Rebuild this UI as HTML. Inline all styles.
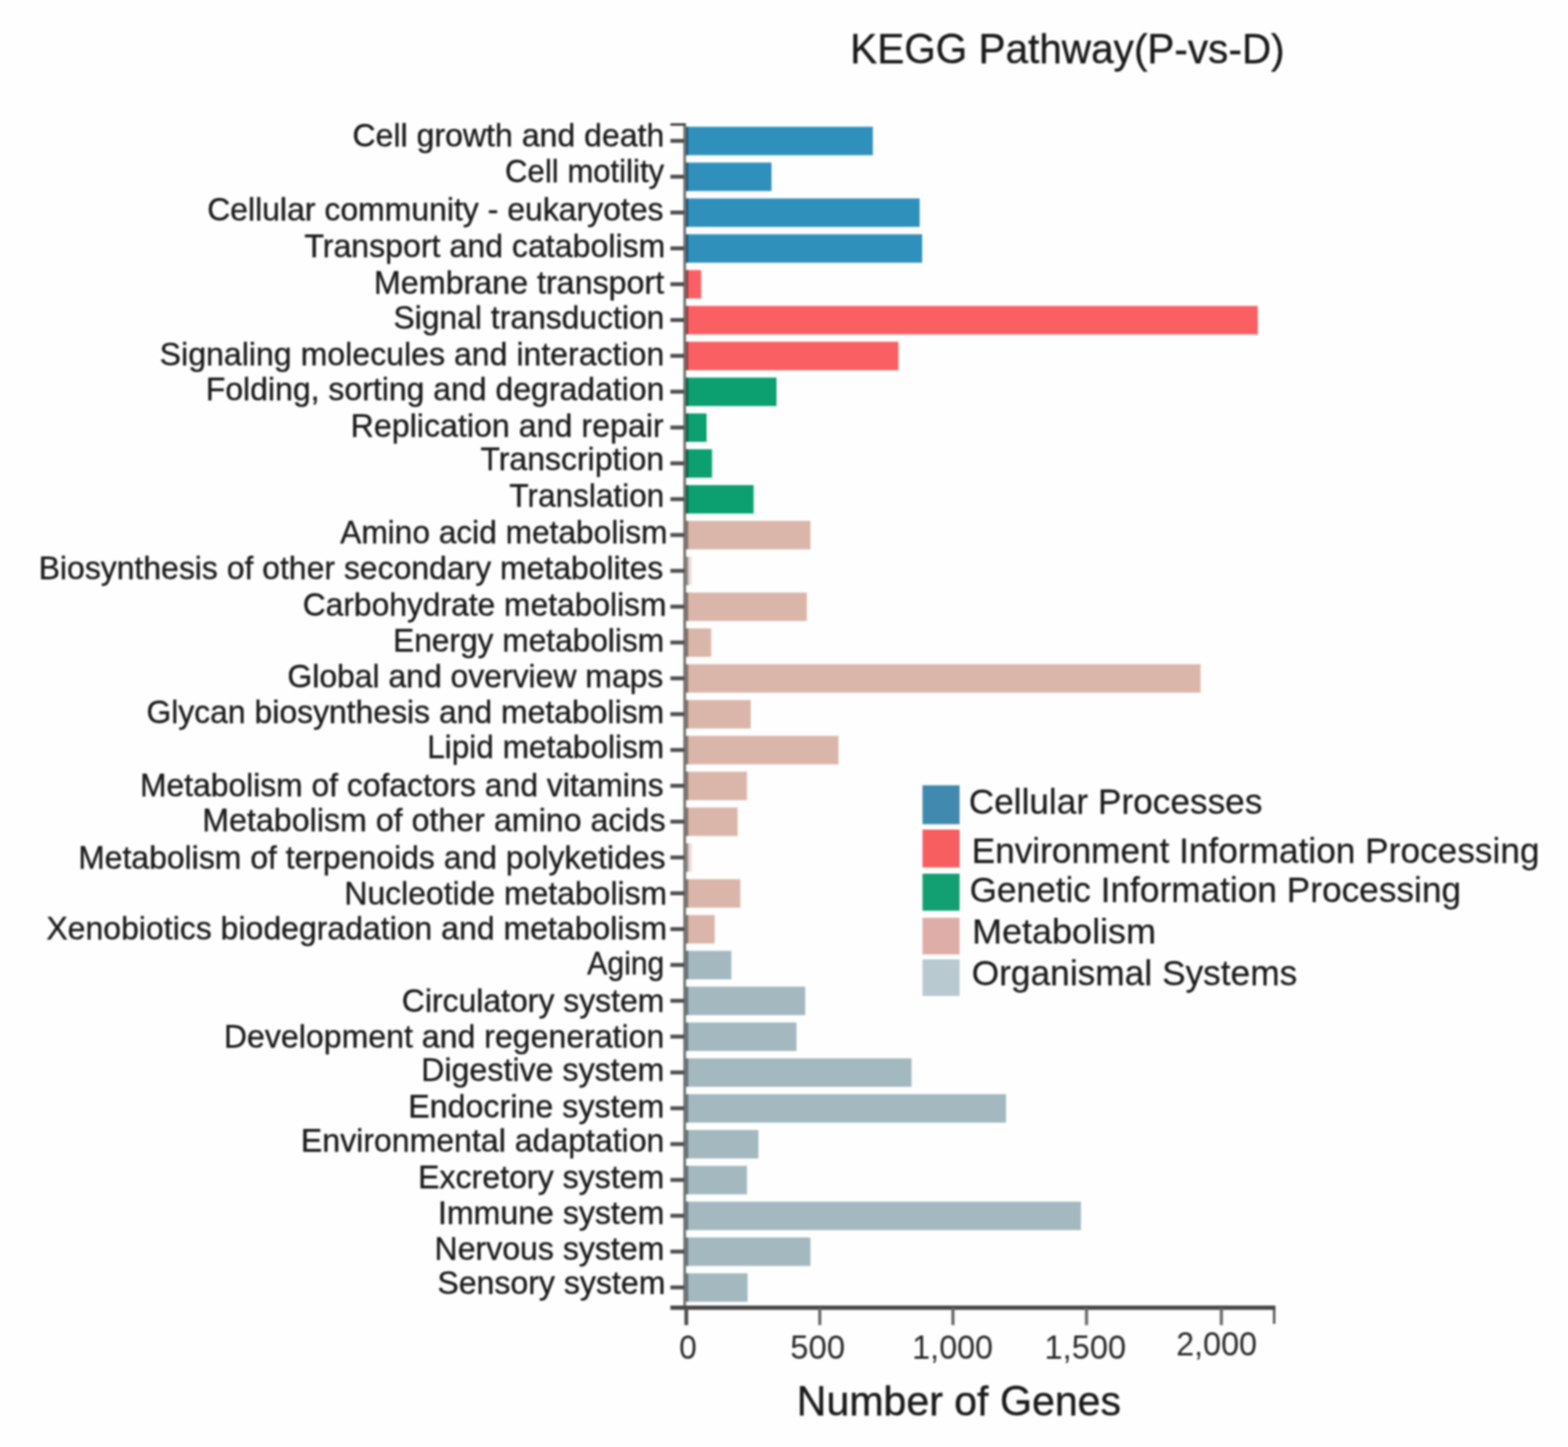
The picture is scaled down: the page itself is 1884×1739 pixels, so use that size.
<!DOCTYPE html>
<html lang="en">
<head>
<meta charset="utf-8">
<title>KEGG Pathway(P-vs-D)</title>
<style>
html,body{margin:0;padding:0;background:#fefefe;}
body{width:1884px;height:1739px;overflow:hidden;}
svg{display:block;}
#blurwrap{filter:blur(0.9px);}
text{font-family:"Liberation Sans",Arial,Helvetica,sans-serif;fill:#1a1a1a;}
.tk{fill:#2a2a2a;}
.lab{font-size:38.5px;stroke:#1a1a1a;stroke-width:0.4px;}
.leg{font-size:43px;stroke:#1a1a1a;stroke-width:0.25px;}
.tk{font-size:40px;}
.ttl{font-size:50px;stroke:#1a1a1a;stroke-width:0.45px;}
.xl{font-size:50px;stroke:#1a1a1a;stroke-width:0.45px;}
</style>
</head>
<body>
<svg width="1884" height="1739" viewBox="0 0 1884 1739">
<rect x="0" y="0" width="1884" height="1739" fill="#fefefe"/>
<g id="blurwrap">
<g id="bars">
<rect x="824" y="152.35" width="224.75" height="34.20" fill="#3090BC"/>
<rect x="824" y="152.35" width="3" height="34.20" fill="#000" opacity="0.36"/>
<rect x="824" y="195.41" width="103.00" height="34.20" fill="#3090BC"/>
<rect x="824" y="195.41" width="3" height="34.20" fill="#000" opacity="0.36"/>
<rect x="824" y="238.47" width="281.00" height="34.20" fill="#3090BC"/>
<rect x="824" y="238.47" width="3" height="34.20" fill="#000" opacity="0.36"/>
<rect x="824" y="281.53" width="284.00" height="34.20" fill="#3090BC"/>
<rect x="824" y="281.53" width="3" height="34.20" fill="#000" opacity="0.36"/>
<rect x="824" y="324.59" width="18.50" height="34.20" fill="#FA5F63"/>
<rect x="824" y="324.59" width="3" height="34.20" fill="#000" opacity="0.36"/>
<rect x="824" y="367.65" width="687.25" height="34.20" fill="#FA5F63"/>
<rect x="824" y="367.65" width="3" height="34.20" fill="#000" opacity="0.36"/>
<rect x="824" y="410.71" width="255.50" height="34.20" fill="#FA5F63"/>
<rect x="824" y="410.71" width="3" height="34.20" fill="#000" opacity="0.36"/>
<rect x="824" y="453.77" width="109.00" height="34.20" fill="#0CA070"/>
<rect x="824" y="453.77" width="3" height="34.20" fill="#000" opacity="0.36"/>
<rect x="824" y="496.83" width="25.00" height="34.20" fill="#0CA070"/>
<rect x="824" y="496.83" width="3" height="34.20" fill="#000" opacity="0.36"/>
<rect x="824" y="539.89" width="31.50" height="34.20" fill="#0CA070"/>
<rect x="824" y="539.89" width="3" height="34.20" fill="#000" opacity="0.36"/>
<rect x="824" y="582.95" width="81.50" height="34.20" fill="#0CA070"/>
<rect x="824" y="582.95" width="3" height="34.20" fill="#000" opacity="0.36"/>
<rect x="824" y="626.01" width="149.75" height="34.20" fill="#DAB6AA"/>
<rect x="824" y="626.01" width="3" height="34.20" fill="#000" opacity="0.36"/>
<rect x="824" y="669.07" width="7.00" height="34.20" fill="#DAB6AA" opacity="0.45"/>
<rect x="824" y="669.07" width="3" height="34.20" fill="#000" opacity="0.36"/>
<rect x="824" y="712.13" width="145.50" height="34.20" fill="#DAB6AA"/>
<rect x="824" y="712.13" width="3" height="34.20" fill="#000" opacity="0.36"/>
<rect x="824" y="755.19" width="30.50" height="34.20" fill="#DAB6AA"/>
<rect x="824" y="755.19" width="3" height="34.20" fill="#000" opacity="0.36"/>
<rect x="824" y="798.25" width="618.50" height="34.20" fill="#DAB6AA"/>
<rect x="824" y="798.25" width="3" height="34.20" fill="#000" opacity="0.36"/>
<rect x="824" y="841.31" width="78.00" height="34.20" fill="#DAB6AA"/>
<rect x="824" y="841.31" width="3" height="34.20" fill="#000" opacity="0.36"/>
<rect x="824" y="884.37" width="183.50" height="34.20" fill="#DAB6AA"/>
<rect x="824" y="884.37" width="3" height="34.20" fill="#000" opacity="0.36"/>
<rect x="824" y="927.43" width="73.50" height="34.20" fill="#DAB6AA"/>
<rect x="824" y="927.43" width="3" height="34.20" fill="#000" opacity="0.36"/>
<rect x="824" y="970.49" width="62.25" height="34.20" fill="#DAB6AA"/>
<rect x="824" y="970.49" width="3" height="34.20" fill="#000" opacity="0.36"/>
<rect x="824" y="1013.55" width="7.25" height="34.20" fill="#DAB6AA" opacity="0.45"/>
<rect x="824" y="1013.55" width="3" height="34.20" fill="#000" opacity="0.36"/>
<rect x="824" y="1056.61" width="65.50" height="34.20" fill="#DAB6AA"/>
<rect x="824" y="1056.61" width="3" height="34.20" fill="#000" opacity="0.36"/>
<rect x="824" y="1099.67" width="34.75" height="34.20" fill="#DAB6AA"/>
<rect x="824" y="1099.67" width="3" height="34.20" fill="#000" opacity="0.36"/>
<rect x="824" y="1142.73" width="54.75" height="34.20" fill="#A3B8BF"/>
<rect x="824" y="1142.73" width="3" height="34.20" fill="#000" opacity="0.36"/>
<rect x="824" y="1185.79" width="143.50" height="34.20" fill="#A3B8BF"/>
<rect x="824" y="1185.79" width="3" height="34.20" fill="#000" opacity="0.36"/>
<rect x="824" y="1228.85" width="133.00" height="34.20" fill="#A3B8BF"/>
<rect x="824" y="1228.85" width="3" height="34.20" fill="#000" opacity="0.36"/>
<rect x="824" y="1271.91" width="271.25" height="34.20" fill="#A3B8BF"/>
<rect x="824" y="1271.91" width="3" height="34.20" fill="#000" opacity="0.36"/>
<rect x="824" y="1314.97" width="384.75" height="34.20" fill="#A3B8BF"/>
<rect x="824" y="1314.97" width="3" height="34.20" fill="#000" opacity="0.36"/>
<rect x="824" y="1358.03" width="87.25" height="34.20" fill="#A3B8BF"/>
<rect x="824" y="1358.03" width="3" height="34.20" fill="#000" opacity="0.36"/>
<rect x="824" y="1401.09" width="73.50" height="34.20" fill="#A3B8BF"/>
<rect x="824" y="1401.09" width="3" height="34.20" fill="#000" opacity="0.36"/>
<rect x="824" y="1444.15" width="474.75" height="34.20" fill="#A3B8BF"/>
<rect x="824" y="1444.15" width="3" height="34.20" fill="#000" opacity="0.36"/>
<rect x="824" y="1487.21" width="149.75" height="34.20" fill="#A3B8BF"/>
<rect x="824" y="1487.21" width="3" height="34.20" fill="#000" opacity="0.36"/>
<rect x="824" y="1530.27" width="74.25" height="34.20" fill="#A3B8BF"/>
<rect x="824" y="1530.27" width="3" height="34.20" fill="#000" opacity="0.36"/>
</g>
<g id="axes" fill="#505050">
<rect x="821" y="148.2" width="3.3" height="1425" fill="#747474"/>
<rect x="805.5" y="148.2" width="18" height="2.9" fill="#3c3c3c"/>
<rect x="805.5" y="166.90" width="17" height="4.8"/>
<rect x="805.5" y="209.96" width="17" height="4.8"/>
<rect x="805.5" y="253.02" width="17" height="4.8"/>
<rect x="805.5" y="296.08" width="17" height="4.8"/>
<rect x="805.5" y="339.14" width="17" height="4.8"/>
<rect x="805.5" y="382.20" width="17" height="4.8"/>
<rect x="805.5" y="425.26" width="17" height="4.8"/>
<rect x="805.5" y="468.32" width="17" height="4.8"/>
<rect x="805.5" y="511.38" width="17" height="4.8"/>
<rect x="805.5" y="554.44" width="17" height="4.8"/>
<rect x="805.5" y="597.50" width="17" height="4.8"/>
<rect x="805.5" y="640.56" width="17" height="4.8"/>
<rect x="805.5" y="683.62" width="17" height="4.8"/>
<rect x="805.5" y="726.68" width="17" height="4.8"/>
<rect x="805.5" y="769.74" width="17" height="4.8"/>
<rect x="805.5" y="812.80" width="17" height="4.8"/>
<rect x="805.5" y="855.86" width="17" height="4.8"/>
<rect x="805.5" y="898.92" width="17" height="4.8"/>
<rect x="805.5" y="941.98" width="17" height="4.8"/>
<rect x="805.5" y="985.04" width="17" height="4.8"/>
<rect x="805.5" y="1028.10" width="17" height="4.8"/>
<rect x="805.5" y="1071.16" width="17" height="4.8"/>
<rect x="805.5" y="1114.22" width="17" height="4.8"/>
<rect x="805.5" y="1157.28" width="17" height="4.8"/>
<rect x="805.5" y="1200.34" width="17" height="4.8"/>
<rect x="805.5" y="1243.40" width="17" height="4.8"/>
<rect x="805.5" y="1286.46" width="17" height="4.8"/>
<rect x="805.5" y="1329.52" width="17" height="4.8"/>
<rect x="805.5" y="1372.58" width="17" height="4.8"/>
<rect x="805.5" y="1415.64" width="17" height="4.8"/>
<rect x="805.5" y="1458.70" width="17" height="4.8"/>
<rect x="805.5" y="1501.76" width="17" height="4.8"/>
<rect x="805.5" y="1544.82" width="17" height="4.8"/>
<rect x="805.5" y="1569" width="726.8" height="5.2" fill="#484848"/>
<rect x="822.30" y="1572" width="4.6" height="20.5" fill="#505050"/>
<rect x="983.10" y="1572" width="3.8" height="20.5" fill="#6a6a6a"/>
<rect x="1143.10" y="1572" width="3.8" height="20.5" fill="#6a6a6a"/>
<rect x="1303.60" y="1572" width="3.8" height="20.5" fill="#6a6a6a"/>
<rect x="1465.60" y="1572" width="3.8" height="20.5" fill="#6a6a6a"/>
<rect x="1529.6" y="1569" width="2.7" height="22" fill="#484848"/>
</g>
<g id="ylabels">
<text id="lab0" class="lab" text-anchor="end" transform="translate(798.25 176.25) scale(1.0009 1)">Cell growth and death</text>
<text id="lab1" class="lab" text-anchor="end" transform="translate(798.00 218.75) scale(0.9717 1)">Cell motility</text>
<text id="lab2" class="lab" text-anchor="end" transform="translate(797.25 265.00) scale(0.9977 1)">Cellular community - eukaryotes</text>
<text id="lab3" class="lab" text-anchor="end" transform="translate(799.50 308.75) scale(1.0022 1)">Transport and catabolism</text>
<text id="lab4" class="lab" text-anchor="end" transform="translate(798.00 352.50) scale(1.0058 1)">Membrane transport</text>
<text id="lab5" class="lab" text-anchor="end" transform="translate(798.25 395.00) scale(0.9945 1)">Signal transduction</text>
<text id="lab6" class="lab" text-anchor="end" transform="translate(798.25 438.75) scale(1.0015 1)">Signaling molecules and interaction</text>
<text id="lab7" class="lab" text-anchor="end" transform="translate(798.25 481.25) scale(0.9980 1)">Folding, sorting and degradation</text>
<text id="lab8" class="lab" text-anchor="end" transform="translate(797.50 524.50) scale(1.0049 1)">Replication and repair</text>
<text id="lab9" class="lab" text-anchor="end" transform="translate(798.00 565.00) scale(0.9987 1)">Transcription</text>
<text id="lab10" class="lab" text-anchor="end" transform="translate(798.00 608.75) scale(0.9838 1)">Translation</text>
<text id="lab11" class="lab" text-anchor="end" transform="translate(802.00 652.50) scale(0.9881 1)">Amino acid metabolism</text>
<text id="lab12" class="lab" text-anchor="end" transform="translate(797.00 696.25) scale(0.9968 1)">Biosynthesis of other secondary metabolites</text>
<text id="lab13" class="lab" text-anchor="end" transform="translate(800.75 740.00) scale(0.9914 1)">Carbohydrate metabolism</text>
<text id="lab14" class="lab" text-anchor="end" transform="translate(798.00 783.00) scale(0.9887 1)">Energy metabolism</text>
<text id="lab15" class="lab" text-anchor="end" transform="translate(797.00 826.25) scale(0.9960 1)">Global and overview maps</text>
<text id="lab16" class="lab" text-anchor="end" transform="translate(798.00 868.75) scale(0.9961 1)">Glycan biosynthesis and metabolism</text>
<text id="lab17" class="lab" text-anchor="end" transform="translate(798.00 911.25) scale(0.9864 1)">Lipid metabolism</text>
<text id="lab18" class="lab" text-anchor="end" transform="translate(797.25 957.00) scale(0.9936 1)">Metabolism of cofactors and vitamins</text>
<text id="lab19" class="lab" text-anchor="end" transform="translate(799.75 998.75) scale(1.0046 1)">Metabolism of other amino acids</text>
<text id="lab20" class="lab" text-anchor="end" transform="translate(799.75 1043.75) scale(0.9969 1)">Metabolism of terpenoids and polyketides</text>
<text id="lab21" class="lab" text-anchor="end" transform="translate(801.50 1087.00) scale(0.9956 1)">Nucleotide metabolism</text>
<text id="lab22" class="lab" text-anchor="end" transform="translate(801.50 1128.75) scale(0.9986 1)">Xenobiotics biodegradation and metabolism</text>
<text id="lab23" class="lab" text-anchor="end" transform="translate(798.25 1171.25) scale(0.9415 1)">Aging</text>
<text id="lab24" class="lab" text-anchor="end" transform="translate(798.25 1216.25) scale(0.9974 1)">Circulatory system</text>
<text id="lab25" class="lab" text-anchor="end" transform="translate(798.25 1258.75) scale(1.0014 1)">Development and regeneration</text>
<text id="lab26" class="lab" text-anchor="end" transform="translate(798.25 1298.75) scale(1.0043 1)">Digestive system</text>
<text id="lab27" class="lab" text-anchor="end" transform="translate(798.25 1342.60) scale(1.0065 1)">Endocrine system</text>
<text id="lab28" class="lab" text-anchor="end" transform="translate(798.25 1384.00) scale(1.0002 1)">Environmental adaptation</text>
<text id="lab29" class="lab" text-anchor="end" transform="translate(798.25 1427.75) scale(1.0031 1)">Excretory system</text>
<text id="lab30" class="lab" text-anchor="end" transform="translate(798.25 1471.00) scale(1.0011 1)">Immune system</text>
<text id="lab31" class="lab" text-anchor="end" transform="translate(798.25 1513.50) scale(1.0010 1)">Nervous system</text>
<text id="lab32" class="lab" text-anchor="end" transform="translate(799.50 1555.25) scale(1.0009 1)">Sensory system</text>
</g>
<g id="legend">
<rect x="1108.4" y="943.75" width="44.6" height="46.75" fill="#4189AE"/>
<text id="leg0" class="leg" transform="translate(1163.90 978.20) scale(0.9850 1)">Cellular Processes</text>
<rect x="1108.4" y="997.00" width="44.6" height="45.50" fill="#F65E60"/>
<text id="leg1" class="leg" transform="translate(1167.40 1036.80) scale(0.9849 1)">Environment Information Processing</text>
<rect x="1108.4" y="1050.00" width="44.6" height="44.50" fill="#12A073"/>
<text id="leg2" class="leg" transform="translate(1164.90 1083.50) scale(0.9849 1)">Genetic Information Processing</text>
<rect x="1108.4" y="1103.00" width="44.6" height="44.00" fill="#DFADA7"/>
<text id="leg3" class="leg" transform="translate(1168.00 1134.00) scale(1.0052 1)">Metabolism</text>
<rect x="1108.4" y="1153.00" width="44.6" height="44.00" fill="#B9C9D0"/>
<text id="leg4" class="leg" transform="translate(1167.50 1184.30) scale(0.9865 1)">Organismal Systems</text>
</g>
<g id="xticks">
<text id="tk0" class="tk" text-anchor="middle" transform="translate(826.50 1633.00) scale(0.9537 1)">0</text>
<text id="tk1" class="tk" text-anchor="middle" transform="translate(982.50 1633.00) scale(0.9856 1)">500</text>
<text id="tk2" class="tk" text-anchor="middle" transform="translate(1144.56 1633.00) scale(0.9692 1)">1,000</text>
<text id="tk3" class="tk" text-anchor="middle" transform="translate(1304.00 1633.00) scale(0.9790 1)">1,500</text>
<text id="tk4" class="tk" text-anchor="middle" transform="translate(1461.75 1629.30) scale(0.9694 1)">2,000</text>
</g>
<text id="ttl" class="ttl" transform="translate(1021.60 75.80) scale(0.9737 1)">KEGG Pathway(P-vs-D)</text>
<text id="xl" class="xl" transform="translate(957.25 1700.50) scale(0.9878 1)">Number of Genes</text>
</g>
</svg>
</body>
</html>
